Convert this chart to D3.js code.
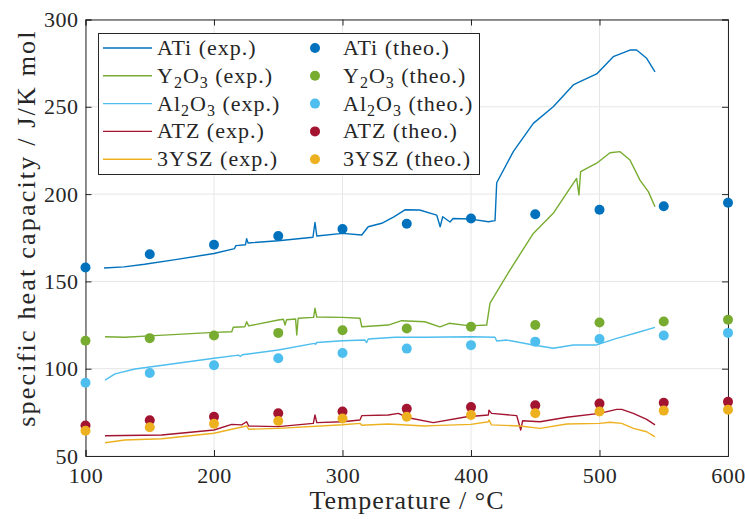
<!DOCTYPE html>
<head>
	<meta charset="utf-8">
	<script src="https://d3js.org/d3.v7.min.js"></script>
	<style>
		body { margin: 0; background: #fff; }
		text { font-family: "Liberation Serif", "DejaVu Serif", serif; fill: #262626; }
	</style>
</head>
<body>
	<div id="chart"></div>
	<script>

	// The svg
	var width = 745,
	height = 519;

	// temperatures of the theoretical points
	var theoT = [100, 150, 200, 250, 300, 350, 400, 450, 500, 550, 600];

	// theoretical values
	var atiTheo   = [158, 165.5, 171, 176, 180, 183, 186, 188.5, 191, 193, 195];
	var y2o3Theo  = [116, 117.5, 119, 120.5, 122, 123, 124, 125, 126.5, 127, 128];
	var al2o3Theo = [92, 97.5, 102, 106, 109, 111.5, 113.5, 115.5, 117, 119, 120.5];
	var atzTheo   = [67.5, 70.5, 72.5, 74.5, 75.5, 77, 78, 79, 80, 80.5, 81];
	var ysz3Theo  = [64.5, 66.5, 68.5, 70, 71.5, 72.5, 73.5, 74.5, 75.5, 76, 76.5];

	// measured curves, [temperature, cp]
	var atiExp = [[114.4,157.7],[130,158.3],[146,159.8],[170,162.5],[200,166],[216,168.8],[217,170.5],[224.5,171],
		[225.4,174.5],[226.5,172],[250,173.3],[277,175.3],[278.6,183.8],[280,176],[300,177.5],[315,176.6],
		[320,181.3],[330.5,183.3],[340,187],[348.6,191],[360,190.9],[373.3,188],[376,181.3],[378,187],
		[383.7,184],[386,186],[400,185.7],[413.5,184.2],[418.7,184.8],[420,206.5],[432.9,224.3],[448.5,240.5],
		[464,250],[479.6,262.5],[484.8,264.4],[497.8,268.8],[510.7,278.7],[523.7,282.5],[528.9,282.5],
		[536.7,277.8],[543.2,270]];
	var y2o3Exp = [[115.2,118.3],[130.7,118],[150,118.8],[200,120.8],[213.8,121.2],[215,123.7],[224,124],
		[225.4,126.9],[227,124.5],[250,127.9],[254,128.3],[255.3,125],[256.5,128],[263.5,128.5],[264.4,119.3],
		[265.5,128.9],[277.5,129.4],[278.6,134.6],[280,129.6],[300,129.4],[313.6,128.9],[315,124],[335.6,125],
		[346,127.5],[364,126.9],[375.8,124],[383,126],[399.2,124.5],[412.2,125],[414.8,137.5],[430.3,156.5],
		[448.5,177.5],[464,189],[474.5,200.5],[482.2,209],[484,199.5],[485.3,212.9],[497.8,217.7],
		[508.2,223.7],[516,224.3],[523.7,219.5],[531.5,208],[538,201.4],[543.2,192.8]];
	var al2o3Exp = [[115.2,93.5],[123,97],[138.5,99.8],[170,103],[200,106],[219,107.8],[220.5,107],[222,108],
		[250,110.7],[278,114.5],[279,114],[280,115],[300,116],[317.5,116.4],[318.8,115],[320,117],[340.9,118],
		[364,118],[400,118.3],[418.7,118],[420,115.9],[427.8,116.4],[448.5,113.6],[464,111.7],[479.6,113.6],
		[497.8,113.6],[513.4,117.4],[528.9,120.6],[543.2,123.7]];
	var atzExp = [[115.2,61.6],[159.3,62],[200,64.9],[213.8,68.1],[221.5,67.8],[225.4,69.6],[227,67.2],
		[250,66.8],[277.3,68.7],[278.6,73.5],[280,69.1],[300,69.6],[313.6,70.6],[315,73.1],[335.6,73.5],
		[343.4,74.4],[351.2,71.9],[370.7,69.1],[396.7,72.5],[413.5,73.5],[414,76.3],[416,74.4],[435.6,73.1],
		[438.7,64.9],[440.2,70.2],[453.7,69.6],[474.5,72.2],[500,74.4],[513.4,76.7],[517.3,76.7],
		[526.3,74.4],[536.7,71],[543.2,67.8]];
	var ysz3Exp = [[115.2,57.6],[130.7,59.2],[159.3,59.9],[200,63],[213.8,65.3],[225.4,67.2],[227,65.3],
		[250,65.8],[300,67.9],[313.6,68.7],[315,67.6],[335.6,68.3],[364,67.2],[370.7,67.4],[400,68.1],
		[413.5,69.6],[414,70.6],[416,67.8],[438.1,67.2],[453.7,65.8],[474.5,68.3],[500,68.7],[508.2,69.3],
		[517.3,68.7],[526.3,65.8],[536.7,63.9],[543.2,61]];

	var xTicks = [100, 200, 300, 400, 500, 600];
	var yTicks = [50, 100, 150, 200, 250, 300];

	// name parts: [text, subscript?]
	var series = [
		{name: [["ATi",0]], color: "#0072BD", exp: atiExp, theo: atiTheo},
		{name: [["Y",0],["2",1],["O",0],["3",1]], color: "#77AC30", exp: y2o3Exp, theo: y2o3Theo},
		{name: [["Al",0],["2",1],["O",0],["3",1]], color: "#4DBEEE", exp: al2o3Exp, theo: al2o3Theo},
		{name: [["ATZ",0]], color: "#A2142F", exp: atzExp, theo: atzTheo},
		{name: [["3YSZ",0]], color: "#EDB120", exp: ysz3Exp, theo: ysz3Theo}
	];

	// plot box (avoid the name "top", it is window.top)
	var mL = 85.5, mR = 728, mT = 19.5, mB = 456;

	var svg = d3.select("#chart").append("svg")
	  .attr("width", width)
	  .attr("height", height);

	var x = d3.scaleLinear().domain([100, 600]).range([mL, mR]);
	var y = d3.scaleLinear().domain([50, 300]).range([mB, mT]);

	// grid
	svg.append("g").selectAll("line").data(xTicks).join("line")
		.attr("x1", d => x(d)).attr("x2", d => x(d))
		.attr("y1", mT).attr("y2", mB)
		.attr("stroke", "#e6e6e6").attr("stroke-width", 1);
	svg.append("g").selectAll("line").data(yTicks).join("line")
		.attr("y1", d => y(d)).attr("y2", d => y(d))
		.attr("x1", mL).attr("x2", mR)
		.attr("stroke", "#e6e6e6").attr("stroke-width", 1);

	// axes (ticks pointing inward, box on)
	var axB = svg.append("g").attr("transform", `translate(0,${mB})`)
		.call(d3.axisBottom(x).tickValues(xTicks).tickSize(-6).tickPadding(11));
	var axT = svg.append("g").attr("transform", `translate(0,${mT})`)
		.call(d3.axisTop(x).tickValues(xTicks).tickSize(-6).tickFormat(""));
	var axL = svg.append("g").attr("transform", `translate(${mL},0)`)
		.call(d3.axisLeft(y).tickValues(yTicks).tickSize(-6).tickPadding(7));
	var axR = svg.append("g").attr("transform", `translate(${mR},0)`)
		.call(d3.axisRight(y).tickValues(yTicks).tickSize(-6).tickFormat(""));
	[axB, axT, axL, axR].forEach(function(a) {
		a.selectAll("path").attr("stroke", "#262626").attr("stroke-width", 1);
		a.selectAll("line").attr("stroke", "#262626");
		a.selectAll("text").style("font-size", "22px").style("font-family", "Liberation Serif")
			.style("letter-spacing", "0.5px").attr("fill", "#262626");
	});

	var line = d3.line().x(d => x(d[0])).y(d => y(d[1]));

	// experimental lines
	svg.append("g").selectAll("path").data(series).join("path")
		.attr("d", d => line(d.exp))
		.attr("fill", "none")
		.attr("stroke", d => d.color)
		.attr("stroke-width", 1.4)
		.attr("stroke-linejoin", "round");

	// theoretical points
	series.forEach(function(s) {
		svg.append("g").selectAll("circle").data(s.theo).join("circle")
			.attr("cx", (d, i) => x(theoT[i]))
			.attr("cy", d => y(d))
			.attr("r", 5)
			.attr("fill", s.color);
	});

	// axis labels
	svg.append("text")
		.attr("x", 407).attr("y", 509)
		.attr("text-anchor", "middle")
		.style("font-size", "26px").style("letter-spacing", "1px")
		.text("Temperature / °C");
	svg.append("text")
		.attr("transform", `translate(35,228) rotate(-90)`)
		.attr("text-anchor", "middle")
		.style("font-size", "26px").style("letter-spacing", "2.2px")
		.text("specific heat capacity / J/K mol");

	// legend
	var lg = svg.append("g");
	lg.append("rect")
		.attr("x", 98.5).attr("y", 33.5).attr("width", 381).attr("height", 141)
		.attr("fill", "#fff").attr("stroke", "#262626").attr("stroke-width", 1);

	function label(g, parts, suffix, tx, ty) {
		var t = g.append("text").attr("x", tx).attr("y", ty)
			.style("font-size", "22px").style("letter-spacing", "1px");
		var sub = false;
		parts.forEach(function(p) {
			var dy = p[1] ? (sub ? 0 : 5) : (sub ? -5 : 0);
			sub = !!p[1];
			t.append("tspan").text(p[0]).attr("dy", dy)
				.style("font-size", p[1] ? "16px" : null);
		});
		t.append("tspan").text(suffix).attr("dy", sub ? -5 : 0);
	}

	series.forEach(function(s, i) {
		var cy = 48 + i * 27.8;
		lg.append("line").attr("x1", 103).attr("x2", 152).attr("y1", cy).attr("y2", cy)
			.attr("stroke", s.color).attr("stroke-width", 1.4);
		label(lg, s.name, " (exp.)", 157, cy + 7);
		lg.append("circle").attr("cx", 315).attr("cy", cy).attr("r", 5).attr("fill", s.color);
		label(lg, s.name, " (theo.)", 343, cy + 7);
	});
</script>
</body>
</html>
